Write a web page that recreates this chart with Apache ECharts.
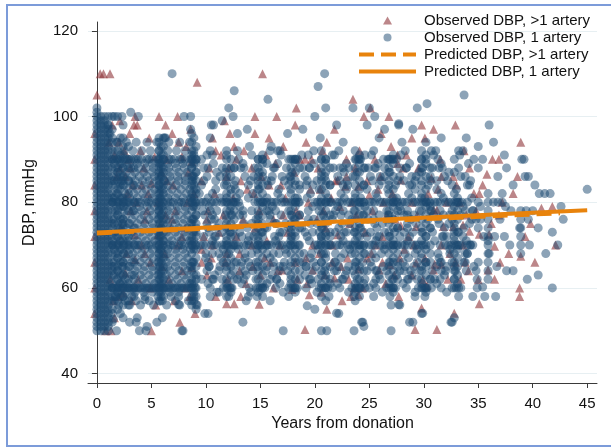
<!DOCTYPE html>
<html>
<head>
<meta charset="utf-8">
<script src="https://cdn.jsdelivr.net/npm/echarts@6/dist/echarts.min.js"></script>
<style>
  html, body { margin: 0; padding: 0; background: #fff; }
  #chart { width: 611px; height: 448px; }
</style>
</head>
<body>
<div id="chart"></div>
<script>
// axis ticks
const yearTicks = [0, 5, 10, 15, 20, 25, 30, 35, 40, 45];
const dbpTicks = [40, 60, 80, 100, 120];

// predicted DBP (fitted lines)
const predYearsOne = [0, 45];
const predDbpOne = [72.9, 78.1];
const predYearsMulti = [0, 42.5];
const predDbpMulti = [72.7, 77.4];

// observed DBP, 1 artery -- vertical clusters: [years, [dbp, ...]]
const oneCols = [
  [0.0, [50,51,52,53,54,55,56,57,58,59,60,61,62,63,64,65,66,67,68,69,70,71,72,73,74,75,76,77,78,79,80,81,82,83,84,85,86,87,88,89,90,91,92,93,94,95,96,97,98,99,100,101,102]],
  [0.35, [50,51,52,53,54,55,56,57,58,59,60,61,62,63,64,65,66,67,68,69,70,71,72,73,74,75,76,77,78,79,80,81,82,83,84,85,86,87,88,89,90,91,92,93,94,95,96,97,98,99,100]],
  [0.7, [50,51,52,53,54,55,56,57,58,59,60,61,62,63,64,65,66,67,68,69,70,71,72,73,74,75,76,77,78,79,80,81,82,83,84,85,86,87,88,89,90,91,92,93,94,95,96,97,98,99,100]],
  [1.05, [50,51,52,53,54,55,56,57,58,59,60,61,62,63,64,65,66,67,68,69,70,71,72,73,74,75,76,77,78,79,80,81,82,83,84,85,86,87,88,89,90,91,92,93,94,95,96,97,98,100]],
  [1.4, [52,54,55,57,58,60,60,61,63,64,65,66,68,70,70,71,72,74,75,76,78,80,80,81,82,84,85,86,88,90,90,92,94,95,97,100]],
  [1.9, [55,57,59,60,62,64,65,67,68,70,72,73,75,77,78,80,82,83,85,87,88,90,92,94]],
  [2.15, [54,58,61,63,66,69,71,74,76,79,81,84,86,89,91,95]],
  [2.4, [53,56,58,60,61,63,65,66,68,70,71,74,75,76,79,80,81,84,85,86,88,90,91,93,95,98]],
  [2.9, [57,60,62,65,68,70,72,75,78,80,82,85,88,90,93]],
  [3.4, [58,60,63,66,70,74,78,80,84,88,90]],
  [5.7, [57,59,60,61,62,63,64,65,66,67,68,69,70,71,72,73,74,75,76,77,78,79,80,81,82,83,84,85,86,87,88,89,90,92,94,95]],
  [5.9, [58,61,63,66,69,72,74,77,79,81,83,86,89,91,93]],
  [6.1, [58,60,62,64,65,67,68,70,71,73,75,76,78,80,82,84,85,87,88,90,91,93,95]],
  [8.7, [56,57,58,60,61,62,64,65,66,68,70,71,72,74,75,76,78,80,81,82,84,85,86,88,90,91,92,94,96]],
  [8.9, [57,59,61,63,66,69,71,73,76,79,81,83,86,89,91,95]],
  [9.1, [55,58,60,62,63,65,67,69,70,72,73,75,77,79,80,82,83,85,87,89,90,93]],
  [11.9, [58,60,61,62,64,65,66,68,70,71,72,74,75,76,78,80,81,82,84,85,86,88,90,92]],
  [12.3, [59,60,63,65,67,69,70,72,73,75,77,79,80,82,83,86,88,90]],
  [12.6, [62,66,70,74,78,80,84,88]],
  [14.8, [59,60,62,64,65,66,68,70,71,72,74,75,76,78,80,81,83,84,85,86,88,90]],
  [15.2, [58,60,61,63,65,67,69,70,72,73,75,77,79,80,82,84,86,87,89,90,91]],
  [15.6, [61,65,70,74,78,80,85,89]],
  [17.8, [60,61,63,65,66,68,70,71,72,74,75,77,78,80,82,83,85,86,88,90]],
  [18.2, [59,60,62,64,66,67,69,70,72,73,75,76,79,80,81,84,85,87,89,90]],
  [18.6, [62,66,70,74,77,80,84,88]],
  [20.6, [58,60,61,63,64,66,68,70,71,72,74,75,77,79,80,81,83,85,86,88,90,92]],
  [21.0, [60,62,63,65,67,68,70,72,73,75,76,78,80,82,84,85,87,89,90]],
  [21.4, [61,65,70,73,77,80,84,88]],
  [23.7, [57,59,60,61,63,65,66,68,70,71,73,74,76,78,80,81,82,84,86,88,90,92]],
  [24.1, [58,60,62,64,65,67,69,70,72,74,75,77,79,80,83,85,87,89,90,91]],
  [24.5, [61,64,68,70,73,77,80,84,88]],
  [26.8, [60,61,63,65,66,68,70,72,73,75,77,78,80,82,84,85,87,88,90]],
  [27.2, [59,60,62,64,66,67,69,70,71,74,76,79,80,81,83,86,89,90,91]],
  [27.6, [62,65,70,74,78,80,85]],
  [29.8, [60,61,62,64,65,67,68,70,71,73,74,76,78,80,81,82,84,85,87,88,90,92]],
  [30.2, [59,60,63,65,66,69,70,72,75,77,79,80,83,86,89,91]],
  [30.6, [62,66,70,74,78,80,85,88]],
  [32.8, [60,62,64,65,66,68,70,71,72,74,75,77,79,80,82]],
  [33.1, [61,63,65,67,69,70,73,76,78,80]],
  [35.9, [62,64,66,68,70,71,72,74,76,78,80,82]],
  [38.9, [68,70,72,74,76,78]]
];

// observed DBP, 1 artery -- horizontal clusters: [dbp, [years, ...]]
const oneRows = [
  [94, [1.8,2.7,3.6,4.6,5.5,6.6,7.6,8.5]],
  [92, [1.7,2.5,3.3,4.1,4.9,5.7,6.5,7.3,8.1,8.9,10.4,12.9,16.8,19.9,22.2,25.4,28.3,31.1,33.6]],
  [91, [10.1,11.9,14.2,16.9,19.4,21.8,24.6,27.9,30.9,33.3]],
  [90, [1.6,2.1,2.6,3.1,3.6,4.1,4.6,5.1,5.6,6.1,6.6,7.1,7.6,8.1,8.6,9.1,9.6,14.8,15.2,17.6,18.0,18.4,20.6,21.0,23.8,24.2,26.3,26.7,27.1,27.5,29.8,30.2,32.8]],
  [90, [1.8,2.8,3.8,4.8,5.8,6.8,7.8,8.8,18.2,24.0,26.9]],
  [89, [1.6,2.3,3.0,3.7,4.4,5.1,5.8,6.5,7.2,7.9,8.6,10.7,13.4,16.6,19.9,22.9,25.8,28.7,31.6,34.1]],
  [88, [1.7,2.4,3.1,3.8,4.5,5.2,5.9,6.6,7.3,8.0,8.7,10.2,11.5,13.2,16.3,19.5,22.6,25.5,28.4,31.4]],
  [88, [9.8,12.6,14.5,17.4,18.9,21.7,23.1,24.9,26.4,27.8,29.9,30.8,33.2]],
  [87, [1.9,2.7,3.5,4.3,5.1,5.9,6.7,7.5,8.3,9.1,11.8,14.9,17.9,20.6,23.9,26.9,29.6,32.8]],
  [86, [1.8,2.5,3.2,3.9,4.6,5.3,6.0,6.7,7.4,8.1,8.8,10.1,11.3,13.6,14.4,16.1,17.7,19.1,20.9,22.1,23.5,25.1,26.4,27.8,28.9,30.6,31.9,33.4]],
  [85, [1.6,2.2,2.9,3.5,4.2,4.8,5.5,6.2,6.8,7.5,8.1,8.8,9.8,10.9,12.7,14.1,16.0,17.2,19.3,20.2,22.3,23.0,25.3,26.1,28.2,29.2,31.2,32.2,34.3]],
  [84, [1.7,2.5,3.3,4.1,4.9,5.7,6.5,7.3,8.1,8.9,9.6,11.7,13.9,15.7,17.6,19.2,21.4,22.6,24.5,25.9,27.4,28.9,30.4,32.6,34.0]],
  [83, [2.1,2.9,3.7,4.5,5.3,6.1,6.9,7.7,8.5,10.9,12.7,14.9,16.7,18.6,20.4,22.9,24.8,26.7,29.2,31.2,33.0]],
  [82, [1.8,2.6,3.4,4.2,5.0,5.8,6.6,7.4,8.2,9.4,10.6,13.1,14.3,16.6,19.6,22.4,25.6,28.6,31.6]],
  [81, [1.6,2.3,3.0,3.7,4.4,5.1,5.8,6.5,7.2,7.9,8.6,11.3,13.9,16.9,19.3,22.7,25.7,28.9,31.8,34.4]],
  [81, [10.2,12.8,15.6,18.4,21.2,24.2,27.5,30.1,33.1]],
  [80, [1.5,2,2.5,3,3.5,4,4.5,5,5.5,6,6.5,7,7.5,8,8.5,9,9.5,10,10.5,11,11.5,12,12.5,13,14.5,15,15.5,16,16.5,17,17.5,18,18.5,20,20.5,21,21.5,22,22.5,23,23.5,24,24.5,25,25.5,26,26.5,27,27.5,28,28.5,29,29.5,30,30.5,31,31.5,32,32.5,33,33.5,34]],
  [80, [1.75,2.75,3.75,4.75,5.75,6.75,7.75,8.75,9.75,10.75,11.75,12.75,15.25,16.25,17.25,18.25,20.25,21.25,22.25,23.25,24.25,25.25,26.25,27.25,28.25,29.25,30.25,31.25,32.25,33.25,35.0,36.4,37.2]],
  [79, [1.8,2.5,3.2,3.9,4.6,5.3,6.0,6.7,7.4,8.1,8.8,10.3,13.1,16.1,19.8,22.1,24.6,27.8,30.6,33.6]],
  [78, [1.7,2.5,3.3,4.1,4.9,5.7,6.5,7.3,8.1,9.7,11.0,13.4,16.4,19.4,22.6,25.4,28.5,31.5,34.5]],
  [78, [10.4,12.2,14.2,15.8,17.6,20.4,21.9,23.6,24.8,26.6,27.9,29.6,30.7,32.6,33.8]],
  [77, [1.9,2.7,3.5,4.3,5.1,5.9,6.7,7.5,8.3,9.1,9.9,11.8,13.1,14.8,16.9,18.6,20.8,23.1,25.9,27.4,29.1,31.8,33.4]],
  [77, [10.6,12.4,15.9,17.9,21.7,24.4,26.7,28.2,30.9,32.4]],
  [76, [1.6,2.4,3.2,4.0,4.8,5.6,6.4,7.2,8.0,8.8,10.8,12.6,14.6,15.9,18.1,19.9,21.6,23.4,24.9,26.8,28.8,30.4,32.6,34.8]],
  [75, [1.6,2.3,3.0,3.7,4.4,5.1,5.8,6.5,7.2,7.9,8.6,10.1,11.2,13.5,14.2,16.5,17.3,19.6,20.2,22.5,23.2,25.5,26.2,28.5,29.3,31.4,32.3,34.2]],
  [74, [1.9,2.7,3.5,4.3,5.1,5.9,6.7,7.5,8.3,9.1,10.2,12.1,13.8,15.4,17.6,18.8,20.7,22.2,24.2,25.7,27.6,28.5,30.6,31.9,33.7]],
  [73, [1.6,2.4,3.2,4.0,4.8,5.6,6.4,7.2,8.0,8.8,11.5,13.1,15.1,16.8,19.1,21.9,23.6,26.4,28.2,29.9,32.8]],
  [73, [10.3,12.2,14.6,17.8,20.4,22.7,25.1,27.3,30.8,33.2]],
  [72, [1.8,2.6,3.4,4.2,5.0,5.8,6.6,7.4,8.2,9.8,10.8,13.3,16.3,19.3,22.4,25.7,28.7,31.7]],
  [72, [10.9,12.7,14.4,16.7,17.9,20.6,21.4,23.9,24.8,26.9,27.8,30.2,32.1,33.6]],
  [71, [2.1,2.9,3.7,4.5,5.3,6.1,6.9,7.7,8.5,10.6,13.9,16.4,19.5,22.6,25.6,28.5,31.0,33.9]],
  [70, [1.5,2,2.5,3,3.5,4,4.5,5,5.5,6,6.5,7,7.5,8,8.5,9,9.5,10,10.5,11,11.5,12,12.5,13,13.5,14,14.5,15,15.5,16,16.5,17,17.5,18,18.5,20,20.5,21,21.5,22,22.5,23,23.5,24,24.5,25,25.5,26,26.5,27,27.5,28,28.5,29,29.5,30,31.5,32,32.5,33,33.5,34,34.5]],
  [70, [1.75,2.75,3.75,4.75,5.75,6.75,7.75,8.75,9.75,10.75,11.75,12.75,13.75,14.75,15.75,16.75,17.75,20.25,21.25,22.25,23.25,24.25,25.25,26.25,27.25,28.25,29.25,32.25,33.25,34.25]],
  [69, [1.6,2.3,3.0,3.7,4.4,5.1,5.8,6.5,7.2,7.9,8.6,11.6,14.7,17.3,20.3,23.2,26.4,29.4,32.4]],
  [68, [1.7,2.5,3.3,4.1,4.9,5.7,6.5,7.3,8.1,10.0,11.2,13.6,16.7,19.7,22.7,25.3,28.3,31.3,34.0]],
  [68, [10.6,12.1,14.2,15.6,17.4,18.6,20.8,21.9,23.4,24.6,26.1,27.6,29.2,30.6,32.4,33.8]],
  [67, [1.9,2.7,3.5,4.3,5.1,5.9,6.7,7.5,8.3,11.4,13.6,15.9,19.6,22.4,25.6,28.6,31.4]],
  [66, [1.6,2.4,3.2,4.0,4.8,5.6,6.4,7.2,8.0,8.8,10.2,12.8,14.6,17.2,18.9,20.6,23.8,25.1,26.9,28.1,30.2,32.6]],
  [66, [11.6,13.9,16.2,19.9,21.9,24.4,27.6,29.4,31.5,33.7]],
  [65, [1.6,2.3,3.0,3.7,4.4,5.1,5.8,6.5,7.2,7.9,8.6,10.3,11.3,13.2,14.1,16.2,17.1,19.2,20.1,22.2,23.1,25.2,26.3,28.3,29.1,31.2,32.1,34.6,36.7]],
  [64, [1.9,2.7,3.5,4.3,5.1,5.9,6.7,7.5,8.3,11.2,12.5,14.3,15.5,17.5,18.6,20.9,21.8,23.5,24.8,26.6,27.8,29.6,30.8,32.9,33.9]],
  [64, [10.1,13.6,16.7,19.8,22.9,25.7,28.8,31.6]],
  [63, [1.6,2.4,3.2,4.0,4.8,5.6,6.4,7.2,8.0,10.8,13.1,16.1,19.1,22.8,25.9,28.9,31.9]],
  [62, [1.8,2.6,3.4,4.2,5.0,5.8,6.6,7.4,8.2,9.6,10.7,13.5,16.5,19.5,22.5,25.6,28.6,31.5,34.9]],
  [62, [11.5,12.9,14.6,15.9,17.8,20.3,21.4,23.9,24.6,27.1,29.4,30.6,32.8]],
  [61, [2.1,2.9,3.7,4.5,5.3,6.1,6.9,7.7,8.5,10.2,13.3,16.8,19.7,22.1,25.4,28.1,31.2]],
  [60, [1.4,1.8,2.2,2.6,3.0,3.4,3.8,4.2,4.6,5.0,5.4,5.8,6.2,6.6,7.0,7.4,7.8,8.2,8.6,9.0,11.6,12,12.4,14.6,15,15.4,17.6,18,18.4,20.4,20.8,21.2,21.6,23.4,23.8,24.2,24.6,26.6,27,27.4,29.5,29.9,30.3,30.7,32.6,33,33.4]],
  [60, [1.6,2.0,2.4,2.8,3.2,3.6,4.0,4.4,4.8,5.2,5.6,6.0,6.4,6.8,7.2,7.6,8.0,8.4,8.8,12.2,15.2,18.2,21.0,24.0,27.2,30.1,33.2]],
  [59, [1.9,2.7,3.5,4.3,5.1,5.9,6.7,7.5,11.2,14.1,17.1,20.2,23.1,26.2,29.2,32.1]],
  [58, [1.7,2.4,3.2,4.4,5.6,6.8,7.5,8.9,10.4,12.1,13.9,14.7,17.6,21.3,23.6,26.9,30.1,33.2]],
  [57, [1.6,2.6,3.6,4.8,6.0,7.2,8.4]],
  [56, [2.0,2.9,4.0,5.2,6.4,7.6,9.2]]
];

// observed DBP, 1 artery -- single points: [years, dbp]
const onePts = [
  [6.9,110],[20.3,107],[20.9,110],[12.6,106],[15.7,104],[33.7,105],[30.3,103],[29.4,102],[12.1,102],[21,102],
  [23.5,102],[25,102],[25.5,100],[20,100],[12.5,100],[11.5,99],[10.7,98],[8.6,100],[8,100],[8.6,97],
  [3.1,101],[1.6,100],[1.9,100],[2.3,100],[3.8,100],[1,98],[1.2,96],[6.2,95],[6.3,95],[12.9,96],
  [16,93],[15.9,92],[22.6,94],[24.8,98],[26.4,97],[27.7,98],[27.7,98.3],[36,98],[36.4,94],[30.2,94],
  [33.2,92],[35.4,90],[39,90],[39.2,90],[39.3,86],[37.6,88],[38.2,84],[40.6,82],[41.1,82],[42.6,79],
  [45,83],[39.4,78],[39.6,76],[38.8,74],[41.8,73],[42.3,70],[39.7,70],[37.6,64],[40.5,63],[41.8,60],
  [36.5,72],[36,68],[34.9,60],[34.5,58],[32.6,52],[32.8,53],[29.8,54],[29,52],[27.8,56],[27,56],
  [27,50],[24.4,52],[24.5,51],[23.6,50],[22.2,54],[22,54.1],[21,57],[20.6,50],[21.1,50],[20,55],
  [19.3,55.8],[17.1,50],[13.4,52],[13.7,57],[15.9,57],[10.2,54],[9.9,54],[7.8,50],[4.5,50],[3.6,52],
  [3.7,53],[3,52],[4.6,51],[5.5,52],[6,53],[3.9,50],[7.9,50],[1.8,50],[1.5,52.7],[1.7,58],
  [3,56],[4.4,57.2],[5.8,56.9],[7.5,56.1],[9.1,56.1],[28.7,52],[29.9,54.1],[29.2,58],[32.5,52],[35.4,60.2],
  [27.7,56.1],[24.3,52],[10.5,98],[10.6,91],[11,87],[13,90],[13.5,88],[14,93],[16.6,92],[16.2,88],
  [17,86],[18.8,91],[19.5,88],[19.8,84],[20.5,95],[21.6,91],[22.3,88],[22.7,87],[23,84],[24.6,88],
  [25.2,91],[25.6,88],[26,86],[28,94],[28.4,88],[28.7,84],[29.3,86],[30.7,92],[31.3,90],[31.7,88],
  [32.3,87],[33.8,86],[34.2,84],[34.6,90],[35,88],[36.8,86],[37.2,82],[37.5,79],[35.2,79],[34.4,76],
  [35,74],[35.5,72],[34.3,70],[34,68],[35,66],[34.8,64],[33.8,66],[32,64],[31.6,66],[31,62],
  [28.5,62],[28.2,64],[27.5,63],[26,62],[25.6,64],[25,60],[25.4,58],[22.6,62],[22,64],[21.8,66],
  [19.6,62],[19.2,65],[19,68],[16.5,62],[16.8,65],[16.2,68],[13.7,63],[13.3,66],[13,69],[10.6,62],
  [10.3,65],[10,67],[11,59],[10.4,60],[14,60],[16.4,60],[19.2,60],[22.3,60],[25.6,60],[28.4,60],
  [31.6,60],[35.6,58],[10.5,76],[11,74],[13.4,77],[14,72],[16.4,75],[17,73],[19.4,76],[19.8,73],
  [22.4,77],[22.9,73],[25.4,76],[25.9,72],[28.5,77],[29,73],[31.3,76],[31.8,72],[34.5,78],[35.2,76],
  [37,76],[37.4,72],[40,78],[41.6,82],[42.8,76],[10.4,95],[13.8,97],[17.5,96],[18.9,97],[22,98],
  [25.9,95],[29,97],[31.6,95],[33.9,95],[35,93],[37.4,91],[39.6,86],[40.2,84],[36.8,80],[38,78],
  [40.5,74],[41.2,68],[38.2,64],[39.5,62],[36.6,58],[37.9,70]
];

// observed DBP, >1 artery: [years, dbp]
const multiPts = [
  [0,105],[0.3,110],[0.6,110],[1.2,110],[-0.2,96],[-0.2,90],[-0.2,84],[-0.2,78],[-0.2,72],[-0.2,66],
  [-0.2,60],[-0.2,54],[0.8,50],[1.3,50],[1.6,53],[1.5,57],[1.2,62],[1.1,94],[1.4,98],[1.6,91],
  [2.1,99],[3.5,100],[3.4,98],[3.7,98],[5.7,100],[6.3,98],[7.4,100],[2,94],[2.5,92],[7.5,94],
  [8.2,93],[5.3,90.6],[6.4,90],[7.8,90.6],[8.7,89.5],[2.1,88],[3.05,88],[8.4,87],[6.4,85],[5,84.4],
  [9.6,85],[4.7,82],[7.2,78],[6.3,77],[4.4,76],[10.1,76],[3.5,72.4],[5.6,72.4],[7.8,72],[9.6,69],
  [4.4,68],[3.5,66.6],[5.95,65],[8.7,64.7],[9.6,66],[2.6,63.5],[2,58],[2.4,58.8],[9,54],[7.6,52],
  [5,50],[4,92],[4.8,95],[3,96],[6.9,96],[8.6,97],[2.8,82],[3.6,80],[4.6,78],[8.3,80],
  [2.2,74],[6.8,74],[4.1,70],[7.4,70],[2.7,68],[6.6,62],[4.9,60],[8.1,60],[3.2,57],[5.4,56],
  [7.1,57],[8.5,58],[1.8,86],[2.9,90],[4.3,88],[5.9,87],[7,84],[8.9,82],[3.3,84],
  [2.6,86],[4.1,84],[5.6,80],[6.9,76],[8.1,74],[3.1,78],[4.9,66],[6.2,68],[7.8,64],[3.8,62],
  [9.2,108],[15.2,110],[18.3,102],[16.5,100],[14.5,100],[14.5,96],[12.2,96],[11.7,99],[10.6,95],[11.4,91],
  [12.8,90],[13.5,92],[10.3,88],[11.9,86],[13.2,85],[14.2,88],[15.5,91],[16.4,89],[17.1,93],[18.6,90],
  [19.1,90],[19.7,90],[19.2,94],[10.8,82],[12.5,81],[14.4,82],[15.8,84],[17.3,81],[18.3,78],[17.1,77],
  [18.6,77],[19.6,83],[10.2,78],[11.6,77],[13.4,76],[14.9,78],[16.2,76],[19.8,70],[9.8,72],[11.2,73],
  [12.8,72],[14.5,74],[15.6,71],[17.5,73],[10.5,67],[11.8,66],[13.1,68],[14.3,65],[15.4,67],[16.6,64],
  [17,64.2],[19.8,64.2],[18.2,66],[10.1,63],[12,62],[13.7,61],[15,63],[16.2,60],[17.9,59.6],[19.5,58.4],
  [11.9,56.3],[12.6,56.3],[14.9,56.2],[19.1,50.3],[13.2,58],[10.9,58],[19.3,61],
  [10.9,92],[12.1,88],[13.8,83],[15.1,86],[16.9,84],[18.1,87],[19.4,80],[10.6,70],[11.9,68],[13.1,64],
  [14.2,70],[15.9,66],[16.8,70],[18.4,62],[19.2,67],[12.6,93],[15.8,95],[18.2,98],
  [23.5,104],[25.1,102],[24.5,100],[26.8,100],[21.1,94],[20.7,92],[24.1,92],[27,93],[28.9,95],[27.6,91],
  [22.9,90],[27.6,89],[23.7,88],[26,86],[22.8,83.7],[27.9,85.2],[22.1,85.2],[24,83.7],[25,81.7],[20.5,83],
  [21.9,85],[20.3,88],[25.5,90],[28.4,91],[29.5,88],[20.8,78],[22.3,79],[23.8,77],[25.3,78],[26.6,77],
  [27.9,74.5],[29.3,74.3],[22.1,72.4],[21,74],[23.2,75],[24.6,73],[26.2,72],[27.4,76],[28.6,72],[20.4,68],
  [21.6,66],[21.8,62.3],[23,67],[24,64.4],[25.9,64.2],[26.9,65.4],[29.3,65.8],[25.2,68],[27.8,67],[28.9,63],
  [23.6,60],[24.4,60],[23.3,58],[24,58.4],[21.1,55],[29.9,61.9],[26.5,61],[20.6,59],[27.7,58],[29.8,55.3],
  [29.2,50.3],[22.5,57],
  [20.2,76],[21.5,81],[22.9,86],[23.4,80],[24.8,85],[25.8,83],[26.3,80],[27.1,82],[28.1,88],[28.9,80],
  [29.4,77],[20.9,63],[21.6,70],[22.4,65],[23.1,62],[24.8,67],[25.6,70],[26.2,66],[27.3,63],[28.2,69],
  [29.1,70],[21.8,97],[26.1,96],
  [32.9,98],[29.8,98],[30.1,95],[38.9,94],[36.3,90],[36.9,90],[31.5,90],[33.7,92],[35.8,86.5],[38.6,86],
  [31.6,86],[32.7,86],[30.7,85.6],[34.2,88],[35.1,82],[38.2,82],[40.8,78.6],[41.8,79],[31.2,78.2],[30.9,78.2],
  [33.3,80],[34.8,78],[36.9,77],[31.8,74.3],[32.7,74.3],[33.6,74.7],[34.2,73.2],[35.1,72.5],[36,72.5],[39.3,72],
  [36.5,69.7],[38.9,67.4],[42.1,70],[30.9,64.2],[31,65.5],[31.6,65.5],[32.4,68],[33.8,66],[35.9,64.2],[35,61.9],
  [37,66],[38.8,60],[38.8,58],[31.2,50.3],[32.8,54.1],[35.1,56.3],[30.3,60.5],[33.4,62],[36.5,62],[39.8,75],
  [30.4,82],[31.3,83],[32.1,80],[33,84],[33.9,77],[34.6,82],[30.1,67],[31.6,70],[32.2,62],[32.9,66],
  [33.6,70],[34.1,64],[30.9,97],[35.4,84],[37.2,80],[36.2,75],[37.8,68],[40.2,66]
];

const legendObserved = ['Observed DBP, >1 artery', 'Observed DBP, 1 artery'];
const legendPredicted = ['Predicted DBP, >1 artery', 'Predicted DBP, 1 artery'];

function buildPoints(cols, rows, pts) {
  const out = [];
  cols.forEach(([x, ys]) => ys.forEach(y => out.push([x, y])));
  rows.forEach(([y, xs]) => xs.forEach(x => out.push([x, y])));
  return out.concat(pts);
}

const chart = echarts.init(document.getElementById('chart'), null, { renderer: 'canvas' });

const axisColor = '#3a3a3a';
const orange = '#e8830c';
const font = "'Liberation Sans', Arial, sans-serif";
const legendText = { fontSize: 15, color: '#111', lineHeight: 17 };

chart.setOption({
  animation: false,
  textStyle: { fontFamily: font },
  graphic: [{
    type: 'rect',
    silent: true,
    shape: { x: 7, y: 5, width: 640, height: 441 },
    style: { fill: 'none', stroke: '#7c9bd9', lineWidth: 2 }
  }],
  grid: { left: 88, right: 14, top: 22, bottom: 65 },
  legend: [
    {
      orient: 'vertical',
      left: 383,
      top: 12,
      padding: 0,
      itemWidth: 9,
      itemHeight: 8,
      itemGap: 0,
      textStyle: Object.assign({ padding: [0, 0, 0, 27] }, legendText),
      data: legendObserved
    },
    {
      orient: 'vertical',
      left: 357,
      top: 46,
      padding: 0,
      itemWidth: 57,
      itemHeight: 8,
      itemGap: 0,
      itemStyle: { color: 'rgba(0,0,0,0)', borderColor: 'rgba(0,0,0,0)', borderWidth: 0 },
      lineStyle: { width: 4 },
      textStyle: Object.assign({ padding: [0, 0, 0, 3] }, legendText),
      data: legendPredicted
    }
  ],
  xAxis: {
    type: 'value',
    min: -0.82,
    max: 45.9,
    name: 'Years from donation',
    nameLocation: 'middle',
    nameGap: 31,
    nameTextStyle: { fontSize: 16, color: '#111' },
    axisLine: { lineStyle: { color: axisColor, width: 1 } },
    axisTick: { customValues: yearTicks, length: 5, lineStyle: { color: axisColor } },
    axisLabel: { customValues: yearTicks, fontSize: 15, color: '#111', margin: 13 },
    splitLine: { show: false }
  },
  yAxis: {
    type: 'value',
    min: 37.8,
    max: 122.05,
    name: 'DBP, mmHg',
    nameLocation: 'middle',
    nameGap: 50,
    nameTextStyle: { fontSize: 16, color: '#111' },
    axisLine: { show: true, lineStyle: { color: axisColor, width: 1 } },
    axisTick: { show: true, customValues: dbpTicks, length: 5, lineStyle: { color: axisColor } },
    axisLabel: { customValues: dbpTicks, fontSize: 15, color: '#111', margin: 10 },
    splitLine: { show: true, customValues: dbpTicks, lineStyle: { color: '#e7eff2', width: 1 } }
  },
  series: [
    {
      name: legendObserved[0],
      type: 'scatter',
      symbol: 'triangle',
      symbolSize: 9,
      clip: false,
      itemStyle: { color: '#90353b', opacity: 0.6 },
      data: multiPts,
      z: 2
    },
    {
      name: legendObserved[1],
      type: 'scatter',
      symbol: 'circle',
      symbolSize: 9,
      clip: false,
      itemStyle: { color: '#1a476f', opacity: 0.5 },
      data: buildPoints(oneCols, oneRows, onePts),
      z: 3
    },
    {
      name: legendPredicted[0],
      type: 'line',
      symbol: 'none',
      data: predYearsMulti.map((x, i) => [x, predDbpMulti[i]]),
      lineStyle: { color: orange, width: 4, type: [15, 7] },
      itemStyle: { color: orange },
      z: 4
    },
    {
      name: legendPredicted[1],
      type: 'line',
      symbol: 'none',
      data: predYearsOne.map((x, i) => [x, predDbpOne[i]]),
      lineStyle: { color: orange, width: 4 },
      itemStyle: { color: orange },
      z: 5
    }
  ]
});

window.addEventListener('resize', () => chart.resize());
</script>
</body>
</html>
